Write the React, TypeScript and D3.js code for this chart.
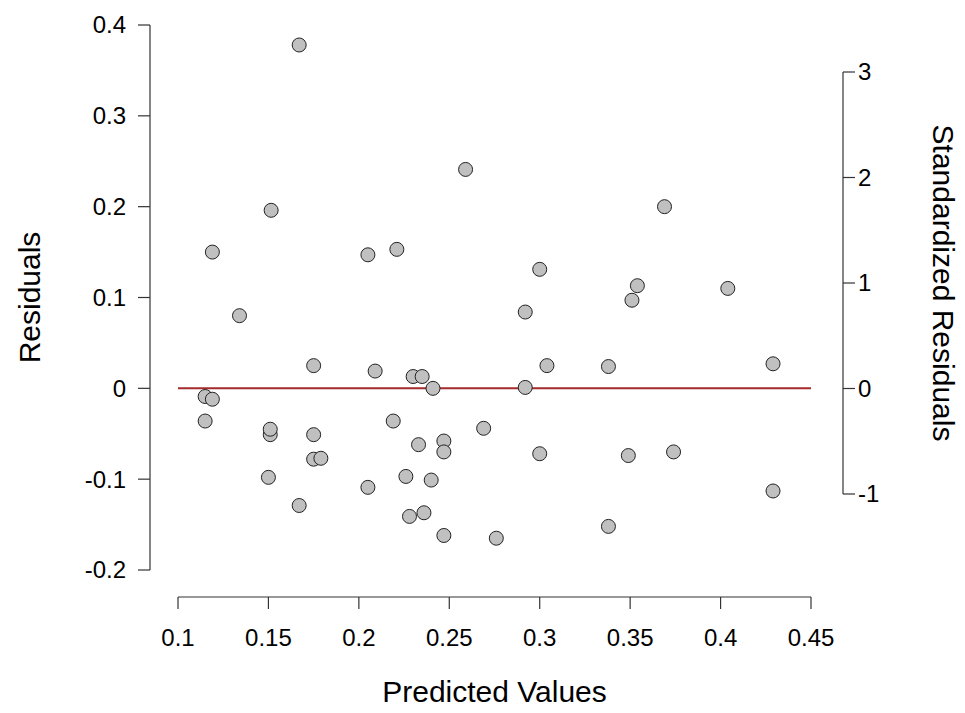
import * as d3 from "d3";

const predicted = [0.167, 0.259, 0.1515, 0.369, 0.119, 0.205, 0.221, 0.3, 0.354, 0.351, 0.404, 0.134, 0.292, 0.175, 0.209, 0.23, 0.235, 0.241, 0.304, 0.292, 0.338, 0.429, 0.115, 0.119, 0.115, 0.151, 0.151, 0.175, 0.175, 0.179, 0.219, 0.233, 0.247, 0.247, 0.269, 0.3, 0.349, 0.374, 0.15, 0.226, 0.24, 0.205, 0.167, 0.228, 0.236, 0.247, 0.276, 0.338, 0.429];
const residuals = [0.378, 0.241, 0.196, 0.2, 0.15, 0.147, 0.153, 0.131, 0.113, 0.097, 0.11, 0.08, 0.084, 0.025, 0.019, 0.013, 0.013, 0.0, 0.025, 0.001, 0.024, 0.027, -0.009, -0.012, -0.036, -0.051, -0.045, -0.051, -0.078, -0.077, -0.036, -0.062, -0.058, -0.07, -0.044, -0.072, -0.074, -0.07, -0.098, -0.097, -0.101, -0.109, -0.129, -0.141, -0.137, -0.162, -0.165, -0.152, -0.113];
const xTicks = [0.1, 0.15, 0.2, 0.25, 0.3, 0.35, 0.4, 0.45];
const yTicks = [-0.2, -0.1, 0, 0.1, 0.2, 0.3, 0.4];
const stdTicks = [-1, 0, 1, 2, 3];

const fmt = (t: number) => String(t);

export default function App() {
  const x = d3.scaleLinear().domain([0.1, 0.45]).range([178, 811]);
  const y = d3.scaleLinear().domain([-0.2, 0.4]).range([570, 25]);
  const ys = d3.scaleLinear().domain([-1, 3]).range([494, 72]);
  const font = "Arial, 'Liberation Sans', sans-serif";
  const axis = "#333";
  const pts = predicted.map((p, i) => ({ p, r: residuals[i] }));
  return (
    <svg width={965} height={713} style={{ position: "absolute", left: 0, top: 0, background: "#fff" }} fontFamily={font}>
      {/* left axis */}
      <line x1={150} x2={150} y1={y(-0.2)} y2={y(0.4)} stroke={axis} strokeWidth={1.2} />
      {yTicks.map((t) => (
        <g key={t}>
          <line x1={138} x2={150} y1={y(t)} y2={y(t)} stroke={axis} strokeWidth={1.2} />
          <text x={126} y={y(t)} dy="0.35em" textAnchor="end" fontSize={24}>{fmt(t)}</text>
        </g>
      ))}
      {/* bottom axis */}
      <line x1={x(0.1)} x2={x(0.45)} y1={597} y2={597} stroke={axis} strokeWidth={1.2} />
      {xTicks.map((t) => (
        <g key={t}>
          <line x1={x(t)} x2={x(t)} y1={597} y2={609} stroke={axis} strokeWidth={1.2} />
          <text x={x(t)} y={646} textAnchor="middle" fontSize={24}>{fmt(t)}</text>
        </g>
      ))}
      {/* right axis */}
      <line x1={843} x2={843} y1={ys(-1)} y2={ys(3)} stroke={axis} strokeWidth={1.2} />
      {stdTicks.map((t) => (
        <g key={t}>
          <line x1={843} x2={855} y1={ys(t)} y2={ys(t)} stroke={axis} strokeWidth={1.2} />
          <text x={858} y={ys(t)} dy="0.35em" textAnchor="start" fontSize={24}>{fmt(t)}</text>
        </g>
      ))}
      <text transform={`translate(40,${y(0.1)}) rotate(-90)`} textAnchor="middle" fontSize={30}>Residuals</text>
      <text x={x(0.275)} y={702} textAnchor="middle" fontSize={30}>Predicted Values</text>
      <text transform={`translate(933,${ys(1)}) rotate(90)`} textAnchor="middle" fontSize={30}>Standardized Residuals</text>
      <line x1={x(0.1)} x2={x(0.45)} y1={y(0)} y2={y(0)} stroke="#a52a2a" strokeWidth={2} />
      {pts.map((d, i) => (
        <circle key={i} cx={x(d.p)} cy={y(d.r)} r={7} fill="#c0c0c0" stroke="#222" strokeWidth={1} />
      ))}
    </svg>
  );
}
